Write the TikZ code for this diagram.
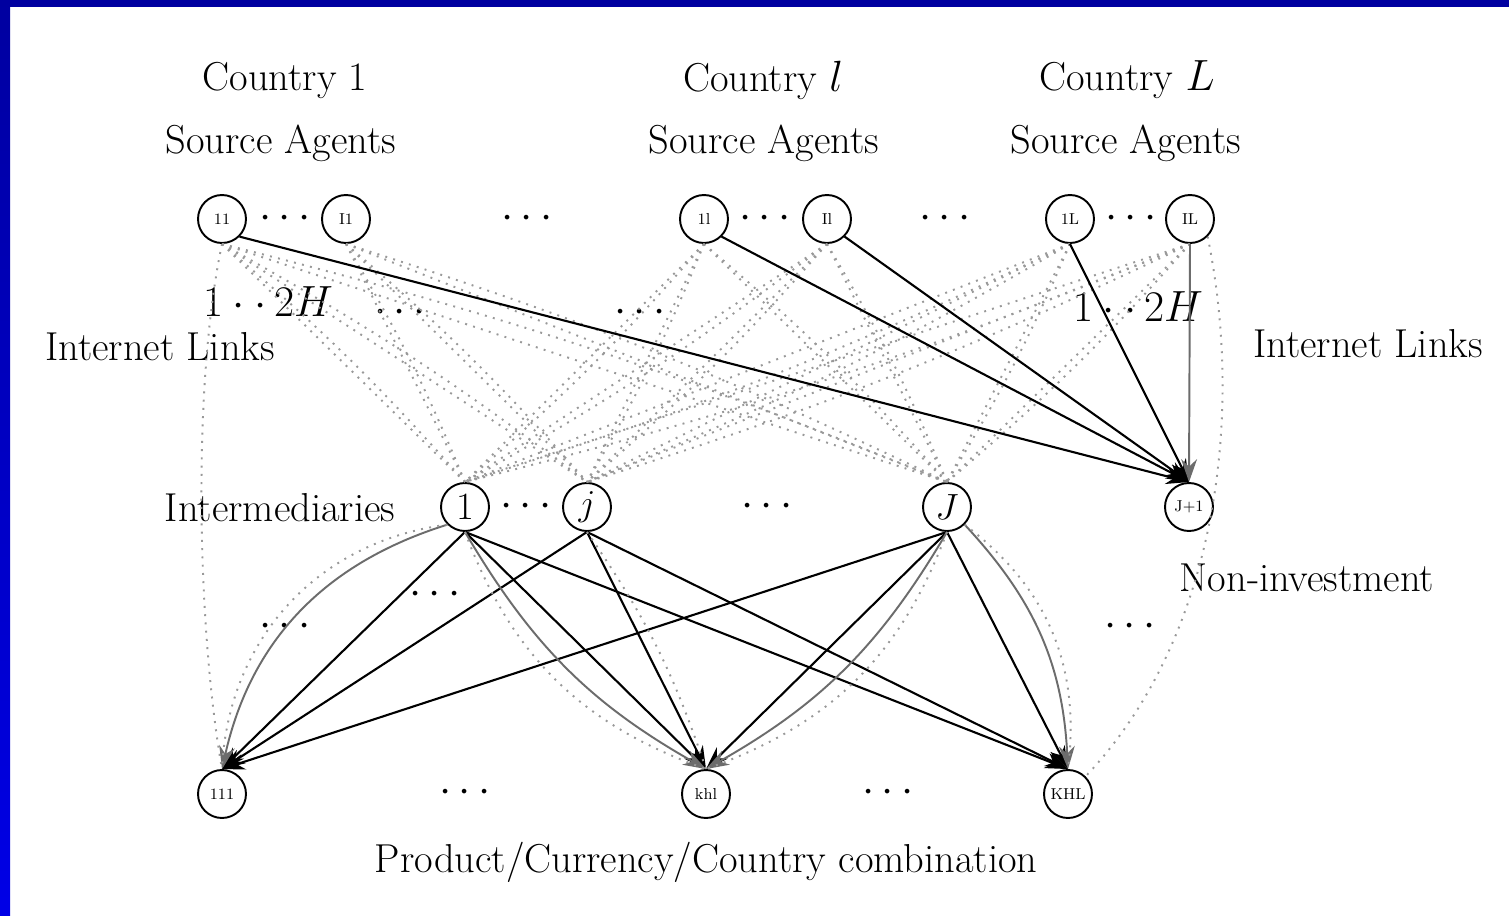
\documentclass[tikz,border=0pt]{standalone}
\usetikzlibrary{arrows.meta}
\begin{document}
\begin{tikzpicture}[x=0.02cm,y=-0.02cm,
  nd/.style={circle,draw,line width=1.1pt,minimum size=0.96cm,inner sep=0pt,font=\fontsize{9}{10}\selectfont},
  bignd/.style={nd,font=\fontsize{22}{24}\selectfont},
  lab/.style={font=\fontsize{23}{25}\selectfont,inner sep=0pt},
  lk/.style={gray!80,line width=1.1pt,dash pattern=on 1.1pt off 3.6pt},
  ar/.style={black,line width=1.2pt,-{Stealth[length=13pt,width=9pt]}},
  gar/.style={gray!85!black,line width=1.1pt,-{Stealth[length=13pt,width=9pt]}}]
\useasboundingbox (0,0) rectangle (1509,916);
\fill[white] (0,0) rectangle (1509,916);
\fill[color={rgb,255:red,0;green,0;blue,160}] (0,0) rectangle (1509,7);
\shade[top color={rgb,255:red,0;green,0;blue,160},bottom color={rgb,255:red,0;green,0;blue,230}] (0,0) rectangle (10,916);

% texts
\node[lab] (c1) at (285,80) {Country 1};
\node[lab] (cl) at (763,80) {Country $l$};
\node[lab] (cL) at (1127,80) {Country $L$};
\node[lab] (s1) at (281,143) {Source Agents};
\node[lab] (sl) at (764,143) {Source Agents};
\node[lab] (sL) at (1126,143) {Source Agents};
\node[lab] (il1) at (160,347) {Internet Links};
\node[lab] (il2) at (1368,344) {Internet Links};
\node[lab] (h1) at (268,302) {$1\cdot\cdot\,2H$};
\node[lab] (h2) at (1138,307) {$1\cdot\cdot\,2H$};
\node[lab] (im) at (280,508) {Intermediaries};
\node[lab] (ni) at (1307,578) {Non-investment};
\node[lab] (pc) at (706,862) {Product/Currency/Country combination};

% nodes
\node[nd] (t1) at (222,219) {11};
\node[nd] (t2) at (346,219) {I1};
\node[nd] (t3) at (704,219) {1l};
\node[nd] (t4) at (827,219) {Il};
\node[nd] (t5) at (1070,219) {1L};
\node[nd] (t6) at (1190,219) {IL};
\node[bignd] (m1) at (465,507) {1};
\node[bignd] (mj) at (587,507) {$j$};
\node[bignd] (mJ) at (947,507) {$J$};
\node[nd] (mJ1) at (1189,507) {J+1};
\node[nd] (b1) at (222,794) {111};
\node[nd] (b2) at (706,794) {khl};
\node[nd] (b3) at (1068,794) {KHL};

% dots
\foreach \x/\y [count=\i] in {285/219,527/219,765/219,945/219,1131/219,526/507,767/507,465/793,888/793,285/627,435/595,1130/627,400/313,640/313}
  \node[lab] (d\i) at (\x,\y) {$\cdots$};

% dotted internet links top -> middle
\foreach \t in {t1,t2,t3,t4,t5,t6}
  \foreach \m in {m1,mj,mJ} {
    \draw[lk] (\t.south) -- (\m.north);
    \draw[lk] (\t.south) to[bend left=4] (\m.north);
  }
\draw[lk] (t1.south) to[out=258,in=100,looseness=0.7] (b1.north);
\draw[lk] (t6.south east) .. controls (1245,420) and (1215,640) .. (b3.north east);

% non-investment
\draw[ar] (t1.south east) -- (mJ1.north);
\draw[ar] (t3.south east) -- (mJ1.north);
\draw[ar] (t4.south east) -- (mJ1.north);
\draw[ar] (t5.south) -- (mJ1.north);
\draw[gar] (t6.south) -- (mJ1.north);

% middle -> bottom
\foreach \m in {m1,mj,mJ}
  \foreach \b in {b1,b2,b3}
    \draw[ar] (\m.south) -- (\b.north);
\draw[gar] (m1.south west) to[bend right=30] (b1.north);
\draw[gar] (m1.south) to[bend right=15] (b2.north);
\draw[gar] (mJ.south) to[bend left=15] (b2.north);
\draw[gar] (mJ.south east) to[bend left=20] (b3.north);
\draw[lk] (m1.south west) to[bend right=40] (b1.north);
\draw[lk] (mJ.south east) to[bend left=30] (b3.north);
\draw[lk] (m1.south) to[bend right=25] (b2.north);
\draw[lk] (mJ.south) to[bend left=25] (b2.north);
\draw[lk] (mj.south) to[bend left=8] (b2.north);
\end{tikzpicture}
\end{document}
